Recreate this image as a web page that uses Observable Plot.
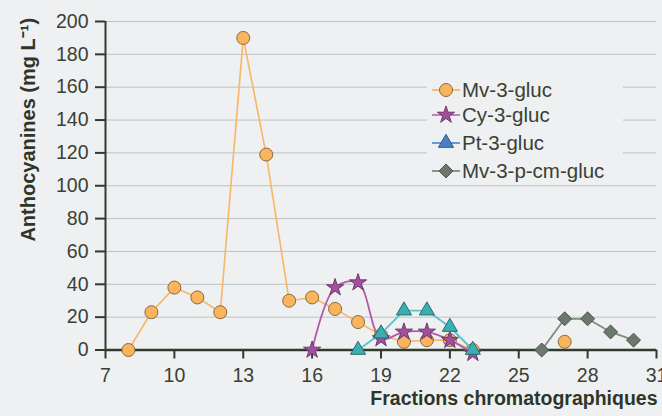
<!DOCTYPE html>
<html><head><meta charset="utf-8">
<script src="https://cdn.jsdelivr.net/npm/d3@7"></script>
<script src="https://cdn.jsdelivr.net/npm/@observablehq/plot@0.6"></script>
<style>
html,body{margin:0;padding:0;background:#eef0f2;}
#wrap{position:relative;width:662px;height:416px;overflow:hidden;}
#legend{position:absolute;left:427px;top:72px;width:196px;height:110px;background:#eef0f2;font-family:"Liberation Sans",Arial,sans-serif;font-size:20.5px;color:#3b4035;}
.row{position:absolute;left:4px;height:26px;display:flex;align-items:center;}
.row svg{display:block;margin-right:1px;}
</style></head><body><div id="wrap"><div id="legend"></div></div>
<script>
// ---- data ----
const seriesNames = ["Mv-3-gluc", "Cy-3-gluc", "Pt-3-gluc", "Mv-3-p-cm-gluc"];
const mvX = [8, 9, 10, 11, 12, 13, 14, 15, 16, 17, 18, 19, 20, 21, 22, 23];
const mvY = [0, 23, 38, 32, 23, 190, 119, 30, 32, 25, 17, 9, 5, 6, 6, 0];
const mvExtraX = [27];
const mvExtraY = [5];
const cyX = [16, 17, 18, 19, 20, 21, 22, 23];
const cyY = [0, 38, 41, 7, 11, 11, 6, -2];
const ptX = [18, 19, 20, 21, 22, 23];
const ptY = [0, 10, 24, 24, 14, 0];
const pcX = [26, 27, 28, 29, 30];
const pcY = [0, 19, 19, 11, 6];
const xTicks = [7, 10, 13, 16, 19, 22, 25, 28, 31];
const yTicks = [0, 20, 40, 60, 80, 100, 120, 140, 160, 180, 200];
const xTitle = "Fractions chromatographiques";
const yTitle = "Anthocyanines (mg L\u207B\u00B9)";

const toRows = (xs, ys) => xs.map((x, i) => ({x, y: ys[i]}));
const mv = toRows(mvX, mvY), mvExtra = toRows(mvExtraX, mvExtraY);
const cy = toRows(cyX, cyY), pt = toRows(ptX, ptY), pc = toRows(pcX, pcY);

const axisColor = "#323a2d", textColor = "#3b4035", titleColor = "#2e3529";
const st = {
  mv: {fill: "#fbb45e", stroke: "#8a6a3c", line: "#f7b763", symbol: "circle", r: 6.5},
  cy: {fill: "#a24f9f", stroke: "#6b3a6a", line: "#b25aaa", symbol: "star", r: 5.4},
  pt: {fill: "#3aaeb2", stroke: "#2a6e70", line: "#5cc4c6", symbol: "triangle", r: 5.6},
  pc: {fill: "#6c786c", stroke: "#4c564c", line: "#7f8a80", symbol: "diamond2", r: 6.3}
};
const dots = (data, s) => Plot.dot(data, {x: "x", y: "y", symbol: () => s.symbol, r: s.r, fill: s.fill, stroke: s.stroke, strokeWidth: 1});

const chart = Plot.plot({
  width: 662, height: 416,
  marginLeft: 105, marginRight: 6, marginTop: 21, marginBottom: 66.5,
  style: {background: "#eef0f2", fontFamily: "Liberation Sans, Arial, sans-serif", fontSize: "19.5px", color: textColor},
  x: {domain: [7, 31], label: null},
  y: {domain: [0, 200], label: null},
  symbol: {type: "identity"},
  marks: [
    Plot.gridY(yTicks.filter(d => d > 0), {stroke: "#b9c4c6", strokeOpacity: 1, strokeWidth: 1}),
    Plot.axisY(yTicks, {tickSize: 10, tickPadding: 7, stroke: axisColor, strokeWidth: 2, fontSize: 19.5, fill: textColor, label: null}),
    Plot.axisX(xTicks, {tickSize: 9, tickPadding: 9, stroke: axisColor, strokeWidth: 2, fontSize: 19.5, fill: textColor, label: null}),
    Plot.ruleX([7], {stroke: axisColor, strokeWidth: 2}),
    Plot.ruleY([0], {x1: 7, x2: 31, stroke: axisColor, strokeWidth: 2.5}),
    Plot.line(mv, {x: "x", y: "y", stroke: st.mv.line, strokeWidth: 1.6}),
    dots(mv, st.mv),
    dots(mvExtra, st.mv),
    Plot.line(cy, {x: "x", y: "y", stroke: st.cy.line, strokeWidth: 1.8, curve: "catmull-rom"}),
    dots(cy, st.cy),
    Plot.line(pt, {x: "x", y: "y", stroke: st.pt.line, strokeWidth: 1.8}),
    dots(pt, st.pt),
    Plot.line(pc, {x: "x", y: "y", stroke: st.pc.line, strokeWidth: 1.8}),
    dots(pc, st.pc),
    Plot.text([xTitle], {frameAnchor: "bottom-right", dx: 1, dy: 55, textAnchor: "end", fontWeight: "bold", fontSize: 19.5, fill: titleColor}),
    Plot.text([yTitle], {frameAnchor: "left", rotate: -90, textAnchor: "middle", dx: -77, dy: -56, fontWeight: "bold", fontSize: 20, fill: titleColor})
  ]
});
const wrap = document.getElementById("wrap");
wrap.insertBefore(chart, wrap.firstChild);

// ---- legend ----
const legendStyles = [
  {fill: "#fbb45e", stroke: "#8a6a3c", line: "#f7b763", sym: d3.symbolCircle, size: Math.PI * 6.5 * 6.5},
  {fill: "#a24f9f", stroke: "#6b3a6a", line: "#c070c0", sym: d3.symbolStar, size: Math.PI * 5.4 * 5.4},
  {fill: "#4a80c2", stroke: "#2e5a8c", line: "#5a90d0", sym: d3.symbolTriangle, size: Math.PI * 5.6 * 5.6},
  {fill: "#6c786c", stroke: "#4c564c", line: "#7f8a80", sym: d3.symbolDiamond2, size: Math.PI * 6.3 * 6.3}
];
const rowCenters = [18, 43, 70.5, 98.5];
const legend = d3.select("#legend");
seriesNames.forEach((name, i) => {
  const s = legendStyles[i];
  const row = legend.append("div").attr("class", "row").style("top", (rowCenters[i] - 13) + "px");
  const svg = row.append("svg").attr("width", 30).attr("height", 26);
  svg.append("line").attr("x1", 1).attr("x2", 29).attr("y1", 13).attr("y2", 13).attr("stroke", s.line).attr("stroke-width", 1.8);
  svg.append("path").attr("d", d3.symbol(s.sym, s.size)()).attr("transform", "translate(15,13)")
    .attr("fill", s.fill).attr("stroke", s.stroke).attr("stroke-width", 1);
  row.append("span").text(name);
});
</script>
</body></html>
